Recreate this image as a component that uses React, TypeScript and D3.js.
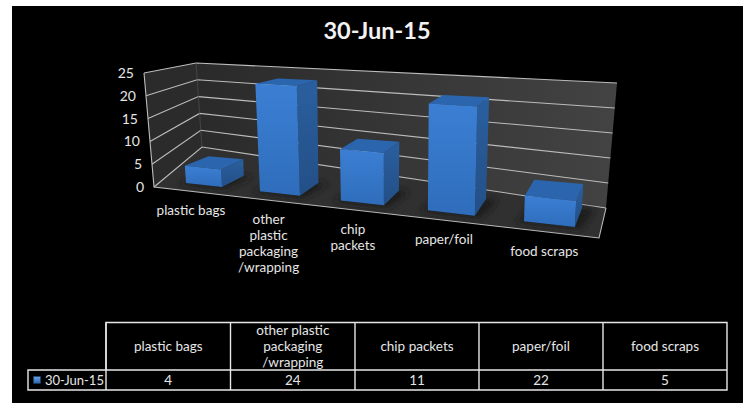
import React, { useMemo } from "react";
import * as d3 from "d3";

const title = "30-Jun-15";
const categories = ["plastic bags", "other plastic packaging /wrapping", "chip packets", "paper/foil", "food scraps"];
const values = [4, 24, 11, 22, 5];
const yTicks = [0, 5, 10, 15, 20, 25];
const axisLabelLines = [["plastic bags"], ["other", "plastic", "packaging", "/wrapping"], ["chip", "packets"], ["paper/foil"], ["food scraps"]];
const tableHeaderLines = [["plastic bags"], ["other plastic", "packaging", "/wrapping"], ["chip packets"], ["paper/foil"], ["food scraps"]];

const W = 748, H = 403;
const FONT = "Lato, 'Open Sans', sans-serif";

type Pt = [number, number];
const depthFront = 0.25, depthBack = 0.72;
const depthKnots = [0, depthFront, depthBack, 1];
// The picture's oblique view, as rails running from the front of the box to its back
const floorLeft: Pt[] = [[154, 187], [166, 180.7], [190, 170.5], [202, 147]];
const floorRight: Pt[] = [[599, 238], [601, 229.9], [607, 210.5], [606, 208]];
const topLeft: Pt[] = [[144, 73], [158, 73.7], [185, 70.5], [196, 63]];
const topRight: Pt[] = [[610, 105], [608, 98.9], [614, 88.5], [617, 83]];
// Foreshortening along the category axis
const widthKnots = [0, 0.06, 0.14, 0.26, 0.34, 0.46, 0.54, 0.66, 0.74, 0.86, 0.94, 1];
const widthShares = [0, 0.046, 0.129, 0.216, 0.308, 0.402, 0.501, 0.602, 0.71, 0.823, 0.94, 1];

const xBand = d3.scaleBand<number>().domain(d3.range(categories.length)).range([0, 1]).paddingInner(0.6).paddingOuter(0.3);
const yShare = d3.scaleLinear().domain([0, 25]).range([0, 1]);
const xWarp = d3.scaleLinear().domain(widthKnots).range(widthShares);
const rail = (pts: Pt[]) => d3.scaleLinear<number[], number[]>().domain(depthKnots).range(pts as unknown as number[]) as unknown as (z: number) => number[];

const tableX = [106, 230.5, 355, 479, 603, 727];
const tableLeft = 28, tableTop = 322.5, tableMid = 370, tableBottom = 390;

export default function App() {
  const project = useMemo(() => {
    const fl = rail(floorLeft), fr = rail(floorRight), tl = rail(topLeft), tr = rail(topRight);
    return (X: number, Y: number, Z: number): Pt => {
      const t = xWarp(X);
      const mix = (a: number[], b: number[]) => [a[0] + (b[0] - a[0]) * t, a[1] + (b[1] - a[1]) * t];
      const lo = mix(fl(Z), fr(Z)), hi = mix(tl(Z), tr(Z));
      return [lo[0] + (hi[0] - lo[0]) * Y, lo[1] + (hi[1] - lo[1]) * Y];
    };
  }, []);
  const poly = (pts: Pt[]) => d3.line()(pts)! + "Z";
  const grid = "#bcbcbc";

  return (
    <svg width={W} height={H} viewBox={`0 0 ${W} ${H}`} style={{ position: "fixed", left: 0, top: 0, background: "#fff" }} fontFamily={FONT}>
      <defs>
        <linearGradient id="wall" x1="0" x2="1" y1="0" y2="0">
          <stop offset="0" stopColor="#2a2a2a" />
          <stop offset="1" stopColor="#434343" />
        </linearGradient>
        <linearGradient id="front" x1="0" x2="0" y1="0" y2="1">
          <stop offset="0" stopColor="#3b7fd4" />
          <stop offset="1" stopColor="#2f6dbb" />
        </linearGradient>
        <linearGradient id="side" x1="0" x2="0" y1="0" y2="1">
          <stop offset="0" stopColor="#2a5f9f" />
          <stop offset="1" stopColor="#234f86" />
        </linearGradient>
        <linearGradient id="key" x1="0" x2="0" y1="0" y2="1">
          <stop offset="0" stopColor="#6aa5e8" />
          <stop offset="1" stopColor="#2a62a8" />
        </linearGradient>
        <filter id="soft" x="-30%" y="-60%" width="160%" height="220%">
          <feGaussianBlur stdDeviation="3" />
        </filter>
      </defs>
      <rect x={12} y={6} width={731} height={397} fill="#000" />
      <text x={377} y={39} textAnchor="middle" fontSize={23.5} fontWeight={700} fill="#f2f2f2">{title}</text>

      {/* walls and floor */}
      <path d={poly([project(0, 0, 0), project(0, 1, 0), project(0, 1, 1), project(0, 0, 1)])} fill="#2b2b2b" />
      <path d={poly([project(0, 0, 1), project(0, 1, 1), project(1, 1, 1), project(1, 0, 1)])} fill="url(#wall)" />
      <path d={poly([project(0, 0, 0), project(0, 0, 1), project(1, 0, 1), project(1, 0, 0)])} fill="#303030" />

      {/* gridlines */}
      {yTicks.map((t) => {
        const v = yShare(t);
        return (
          <path key={t} d={d3.line()([project(0, v, 0), project(0, v, 1), project(1, v, 1)])!} fill="none" stroke={grid} strokeWidth={1.1} />
        );
      })}
      <path d={d3.line()([project(0, 1, 0), project(0, 0, 0), project(1, 0, 0), project(1, 0, 1)])!} fill="none" stroke={grid} strokeWidth={1.1} />
      <path d={d3.line()([project(0, 0, 1), project(0, 1, 1)])!} fill="none" stroke="#555" strokeWidth={0.7} />

      {/* y tick labels */}
      {yTicks.map((t) => {
        const [x, y] = project(0, yShare(t), 0);
        return <text key={t} x={x - 10} y={y + 5} textAnchor="end" fontSize={14} fill="#e6e6e6">{t}</text>;
      })}

      {/* bars */}
      {values.map((val, i) => {
        const a = xBand(i)!, b = a + xBand.bandwidth();
        const v = yShare(val);
        const [z0, z1] = [depthFront, depthBack];
        return (
          <g key={categories[i]}>
            <path d={poly([project(a - 0.015, 0, z0 - 0.06), project(b + 0.015, 0, z0 - 0.06), project(b + 0.03, 0, z1), project(a, 0, z1)])} fill="#1c1c1c" filter="url(#soft)" />
            <path d={poly([project(a, v, z0), project(a, v, z1), project(b, v, z1), project(b, v, z0)])} fill="#2b65ae" />
            <path d={poly([project(b, 0, z0), project(b, v, z0), project(b, v, z1), project(b, 0, z1)])} fill="url(#side)" />
            <path d={poly([project(a, 0, z0), project(a, v, z0), project(b, v, z0), project(b, 0, z0)])} fill="url(#front)" />
          </g>
        );
      })}

      {/* category labels */}
      {axisLabelLines.map((lines, i) => {
        const [x, y] = project(xBand(i)! + xBand.bandwidth() / 2, 0, 0);
        return (
          <text key={i} textAnchor="middle" fontSize={13.5} fill="#e6e6e6">
            {lines.map((l, k) => <tspan key={k} x={x - 2} y={y + 24 + k * 16}>{l}</tspan>)}
          </text>
        );
      })}

      {/* data table */}
      <g stroke="#e8e8e8" strokeWidth={1.4} fill="none">
        <path d={`M${tableX[0]},${tableMid}V${tableTop}H${tableX[5]}V${tableBottom}H${tableLeft}V${tableMid}H${tableX[5]}`} />
        {tableX.map((x, i) => i < 5 ? <path key={i} d={`M${x},${tableTop}V${tableBottom}`} /> : null)}
      </g>
      <rect x={33.5} y={376.5} width={7} height={7} fill="url(#key)" stroke="#1d3f6e" strokeWidth={0.5} />
      <text x={45} y={384.5} fontSize={13} fill="#e6e6e6">{title}</text>
      {tableHeaderLines.map((lines, i) => {
        const cx = (tableX[i] + tableX[i + 1]) / 2;
        const cy = (tableTop + tableMid) / 2;
        return (
          <text key={i} textAnchor="middle" fontSize={13.5} fill="#e6e6e6">
            {lines.map((l, k) => <tspan key={k} x={cx} y={cy + 4.5 + (k - (lines.length - 1) / 2) * 16}>{l}</tspan>)}
          </text>
        );
      })}
      {values.map((val, i) => (
        <text key={i} x={(tableX[i] + tableX[i + 1]) / 2} y={384.5} textAnchor="middle" fontSize={13.5} fill="#e6e6e6">{val}</text>
      ))}
    </svg>
  );
}
